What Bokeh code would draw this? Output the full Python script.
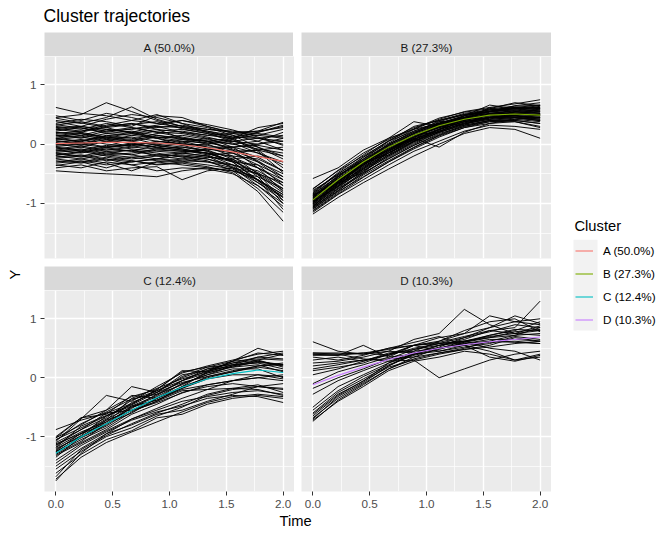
from bokeh.plotting import figure
from bokeh.layouts import column, row
from bokeh.models import Range1d, FixedTicker, Legend, LegendItem, PrintfTickFormatter
from bokeh.core.properties import value
from bokeh.embed import file_html
from bokeh.resources import INLINE

# ---------------- data ----------------
TIME = [0.0, 0.222, 0.444, 0.667, 0.889, 1.111, 1.333, 1.556, 1.778, 2.0]

CLUSTERS = ["A", "B", "C", "D"]
CLUSTER_LABELS = ["A (50.0%)", "B (27.3%)", "C (12.4%)", "D (10.3%)"]
CLUSTER_COLORS = ["#F8766D", "#7CAE00", "#00BFC4", "#C77CFF"]

MEAN_A = [0.01, 0.02, 0.03, 0.03, 0.02, -0.01, -0.06, -0.13, -0.21, -0.29]
MEAN_B = [-0.94, -0.60, -0.30, -0.05, 0.15, 0.31, 0.42, 0.49, 0.51, 0.49]
MEAN_C = [-1.28, -1.00, -0.78, -0.55, -0.34, -0.16, -0.02, 0.07, 0.13, 0.09]
MEAN_D = [-0.12, 0.04, 0.18, 0.31, 0.42, 0.50, 0.56, 0.61, 0.65, 0.69]

TRAJ_A = [
    [0.62, 0.52, 0.48, 0.40, 0.35, 0.28, 0.20, 0.12, 0.10, 0.05],
    [0.45, 0.50, 0.70, 0.55, 0.40, 0.30, 0.22, 0.15, 0.05, -0.10],
    [0.40, 0.35, 0.45, 0.63, 0.42, 0.30, 0.25, 0.20, 0.22, 0.37],
    [0.35, 0.42, 0.38, 0.30, 0.48, 0.45, 0.30, 0.18, 0.10, 0.00],
    [0.30, 0.25, 0.35, 0.28, 0.20, 0.18, 0.10, -0.05, -0.30, -0.60],
    [0.28, 0.30, 0.22, 0.25, 0.30, 0.20, 0.15, 0.10, 0.28, 0.35],
    [0.25, 0.20, 0.30, 0.35, 0.25, 0.10, 0.05, -0.10, -0.40, -0.80],
    [0.22, 0.28, 0.18, 0.15, 0.22, 0.25, 0.18, 0.05, 0.00, 0.10],
    [0.20, 0.15, 0.25, 0.20, 0.12, 0.05, -0.05, -0.20, -0.50, -0.95],
    [0.18, 0.22, 0.28, 0.18, 0.10, 0.15, 0.08, 0.00, 0.05, 0.20],
    [0.15, 0.10, 0.18, 0.22, 0.15, 0.08, 0.00, -0.15, -0.35, -0.70],
    [0.12, 0.18, 0.10, 0.05, 0.12, 0.10, 0.05, 0.10, 0.15, 0.25],
    [0.10, 0.05, 0.15, 0.10, 0.00, -0.05, -0.10, -0.25, -0.55, -1.00],
    [0.08, 0.12, 0.05, 0.15, 0.10, 0.02, -0.05, -0.05, 0.00, 0.05],
    [0.05, 0.00, 0.08, 0.05, -0.02, -0.08, -0.15, -0.30, -0.60, -1.10],
    [0.03, 0.08, 0.00, -0.03, 0.05, 0.00, -0.08, -0.12, -0.10, -0.20],
    [0.00, -0.05, 0.05, 0.02, -0.05, -0.10, -0.18, -0.35, -0.65, -0.90],
    [-0.02, 0.03, -0.05, 0.00, 0.02, -0.02, 0.00, 0.05, 0.10, 0.15],
    [-0.05, -0.10, -0.02, -0.08, -0.12, -0.15, -0.20, -0.40, -0.70, -1.05],
    [-0.08, -0.03, -0.10, -0.05, -0.08, -0.12, -0.10, -0.05, -0.02, -0.10],
    [-0.10, -0.15, -0.08, -0.12, -0.18, -0.20, -0.25, -0.38, -0.60, -0.85],
    [-0.12, -0.08, -0.15, -0.18, -0.10, -0.12, -0.15, -0.20, -0.25, -0.45],
    [-0.15, -0.20, -0.12, -0.10, -0.15, -0.22, -0.28, -0.45, -0.75, -1.15],
    [-0.18, -0.12, -0.20, -0.25, -0.20, -0.18, -0.22, -0.25, -0.20, -0.30],
    [-0.20, -0.25, -0.18, -0.22, -0.28, -0.30, -0.35, -0.42, -0.65, -0.95],
    [-0.22, -0.18, -0.25, -0.30, -0.25, -0.28, -0.30, -0.35, -0.45, -0.70],
    [-0.25, -0.30, -0.22, -0.28, -0.35, -0.32, -0.38, -0.48, -0.80, -1.30],
    [-0.30, -0.25, -0.32, -0.45, -0.30, -0.35, -0.40, -0.45, -0.55, -0.75],
    [-0.35, -0.40, -0.30, -0.35, -0.45, -0.40, -0.42, -0.50, -0.70, -1.00],
    [-0.45, -0.48, -0.50, -0.52, -0.55, -0.45, -0.40, -0.45, -0.60, -0.85],
    [-0.40, -0.35, -0.45, -0.40, -0.38, -0.60, -0.45, -0.40, -0.50, -0.65],
    [0.38, 0.30, 0.42, 0.50, 0.45, 0.35, 0.28, 0.15, -0.05, -0.25],
    [0.32, 0.38, 0.30, 0.35, 0.28, 0.32, 0.25, 0.22, 0.18, 0.12],
    [0.27, 0.22, 0.32, 0.40, 0.50, 0.35, 0.20, 0.10, -0.10, -0.40],
    [0.14, 0.20, 0.12, 0.08, 0.18, 0.22, 0.15, 0.18, 0.22, 0.28],
    [0.06, 0.02, 0.10, 0.12, 0.05, 0.00, -0.02, -0.10, -0.28, -0.55],
    [-0.04, 0.00, -0.06, -0.02, 0.04, 0.08, 0.05, 0.00, -0.08, -0.15],
    [-0.14, -0.10, -0.18, -0.15, -0.08, -0.05, -0.12, -0.22, -0.40, -0.65],
    [-0.24, -0.20, -0.28, -0.22, -0.18, -0.15, -0.20, -0.30, -0.35, -0.55],
    [-0.28, -0.32, -0.25, -0.35, -0.30, -0.25, -0.30, -0.40, -0.60, -0.90],
    [0.48, 0.40, 0.52, 0.45, 0.35, 0.40, 0.30, 0.20, 0.15, 0.10],
    [0.24, 0.30, 0.25, 0.20, 0.30, 0.28, 0.22, 0.12, 0.20, 0.30],
    [0.16, 0.12, 0.22, 0.28, 0.20, 0.12, 0.05, -0.08, -0.22, -0.45],
    [0.02, -0.02, 0.05, -0.05, 0.00, 0.05, 0.02, -0.05, -0.15, -0.30],
    [-0.06, -0.12, -0.04, 0.00, -0.06, -0.10, -0.15, -0.28, -0.48, -0.75],
    [-0.16, -0.22, -0.15, -0.10, -0.20, -0.25, -0.18, -0.15, -0.10, -0.05],
    [-0.32, -0.28, -0.35, -0.30, -0.25, -0.20, -0.25, -0.35, -0.50, -0.78],
    [0.10, 0.15, 0.08, 0.00, -0.05, 0.02, 0.10, 0.05, -0.05, -0.20],
    [-0.10, -0.05, -0.12, -0.18, -0.25, -0.15, -0.08, -0.15, -0.30, -0.50],
    [0.20, 0.18, 0.12, 0.18, 0.25, 0.20, 0.12, 0.02, -0.15, -0.35],
    [0.44, 0.36, 0.28, 0.33, 0.38, 0.26, 0.18, 0.08, -0.12, -0.48],
    [0.09, 0.04, 0.14, 0.20, 0.10, -0.02, -0.12, -0.30, -0.62, -0.88],
    [-0.01, 0.06, 0.12, 0.06, 0.15, 0.10, 0.02, 0.08, 0.20, 0.32],
    [-0.19, -0.14, -0.06, -0.12, -0.02, -0.08, -0.16, -0.28, -0.52, -0.82],
    [-0.36, -0.30, -0.40, -0.28, -0.34, -0.30, -0.22, -0.26, -0.40, -0.60],
    [0.33, 0.27, 0.20, 0.26, 0.32, 0.40, 0.33, 0.24, 0.12, -0.02],
]

TRAJ_B = [
    [-0.58, -0.40, -0.10, 0.10, 0.25, 0.35, 0.45, 0.55, 0.60, 0.62],
    [-0.75, -0.45, -0.20, 0.05, 0.30, 0.40, 0.50, 0.55, 0.65, 0.70],
    [-0.80, -0.50, -0.25, 0.00, 0.20, 0.35, 0.48, 0.58, 0.62, 0.60],
    [-0.85, -0.55, -0.22, 0.02, 0.25, 0.42, 0.55, 0.62, 0.68, 0.75],
    [-0.88, -0.62, -0.35, -0.10, 0.12, 0.28, 0.40, 0.48, 0.52, 0.50],
    [-0.90, -0.58, -0.30, -0.02, 0.18, 0.33, 0.45, 0.52, 0.55, 0.58],
    [-0.92, -0.65, -0.38, -0.12, 0.08, 0.25, 0.38, 0.45, 0.48, 0.45],
    [-0.95, -0.60, -0.28, -0.05, 0.15, 0.30, 0.42, 0.50, 0.52, 0.50],
    [-0.98, -0.70, -0.42, -0.18, 0.05, 0.22, 0.35, 0.42, 0.45, 0.40],
    [-1.00, -0.62, -0.32, -0.08, 0.12, 0.28, 0.40, 0.48, 0.50, 0.48],
    [-1.02, -0.68, -0.40, -0.15, 0.08, 0.25, 0.38, 0.45, 0.48, 0.42],
    [-1.05, -0.72, -0.45, -0.20, 0.02, 0.20, 0.32, 0.40, 0.42, 0.38],
    [-1.08, -0.75, -0.48, -0.25, -0.02, 0.18, 0.30, 0.38, 0.40, 0.35],
    [-1.10, -0.80, -0.55, -0.30, -0.08, 0.12, 0.28, 0.35, 0.38, 0.30],
    [-1.15, -0.85, -0.60, -0.35, -0.12, 0.05, 0.22, 0.32, 0.30, 0.25],
    [-1.18, -0.90, -0.65, -0.42, -0.20, 0.00, 0.18, 0.28, 0.25, 0.10],
    [-0.82, -0.48, -0.18, 0.10, 0.38, 0.30, 0.48, 0.55, 0.58, 0.52],
    [-0.78, -0.52, -0.28, -0.10, 0.15, 0.28, 0.40, 0.62, 0.52, 0.48],
    [-0.86, -0.58, -0.32, -0.15, 0.05, 0.25, 0.45, 0.60, 0.70, 0.65],
    [-0.93, -0.55, -0.25, 0.05, 0.22, 0.38, 0.50, 0.58, 0.60, 0.62],
    [-0.96, -0.66, -0.35, -0.10, 0.10, -0.05, 0.20, 0.35, 0.42, 0.45],
    [-0.99, -0.64, -0.30, 0.00, 0.20, 0.35, 0.48, 0.55, 0.60, 0.65],
    [-1.01, -0.70, -0.38, -0.12, 0.10, 0.26, 0.38, 0.46, 0.48, 0.44],
    [-1.04, -0.74, -0.42, -0.15, 0.06, 0.22, 0.36, 0.44, 0.46, 0.42],
    [-1.06, -0.76, -0.50, -0.22, 0.00, 0.20, 0.34, 0.42, 0.45, 0.40],
    [-1.12, -0.82, -0.52, -0.28, -0.05, 0.15, 0.30, 0.40, 0.40, 0.35],
    [-0.89, -0.56, -0.28, 0.00, 0.22, 0.36, 0.46, 0.52, 0.56, 0.55],
    [-0.84, -0.54, -0.26, -0.02, 0.18, 0.34, 0.44, 0.54, 0.58, 0.56],
    [-0.91, -0.63, -0.36, -0.08, 0.14, 0.30, 0.44, 0.50, 0.54, 0.52],
    [-0.97, -0.68, -0.40, -0.14, 0.08, 0.24, 0.38, 0.46, 0.50, 0.48],
    [-1.03, -0.71, -0.44, -0.18, 0.04, 0.22, 0.36, 0.45, 0.48, 0.46],
    [-1.07, -0.78, -0.50, -0.24, -0.02, 0.16, 0.32, 0.40, 0.44, 0.40],
    [-0.87, -0.60, -0.33, -0.06, 0.16, 0.32, 0.44, 0.56, 0.62, 0.60],
    [-0.94, -0.62, -0.34, -0.06, 0.14, 0.30, 0.42, 0.50, 0.54, 0.54],
    [-1.00, -0.66, -0.36, -0.10, 0.12, 0.30, 0.42, 0.50, 0.52, 0.50],
    [-0.76, -0.44, -0.15, 0.08, 0.28, 0.40, 0.50, 0.56, 0.60, 0.58],
    [-1.09, -0.79, -0.46, -0.20, 0.04, 0.20, 0.34, 0.44, 0.46, 0.44],
    [-0.83, -0.50, -0.22, 0.06, 0.26, 0.44, 0.54, 0.60, 0.64, 0.66],
    [-0.95, -0.64, -0.34, -0.05, 0.18, 0.40, 0.52, 0.58, 0.62, 0.66],
    [-1.13, -0.84, -0.56, -0.30, -0.06, 0.14, 0.28, 0.38, 0.38, 0.28],
    [-0.90, -0.52, -0.30, -0.04, 0.08, 0.24, 0.48, 0.66, 0.60, 0.56],
    [-1.06, -0.66, -0.48, -0.12, 0.10, 0.34, 0.32, 0.52, 0.57, 0.64],
    [-0.97, -0.72, -0.30, -0.18, 0.16, 0.20, 0.44, 0.42, 0.55, 0.52],
    [-0.86, -0.66, -0.42, -0.02, 0.06, 0.38, 0.40, 0.52, 0.48, 0.60],
]

TRAJ_C = [
    [-0.88, -0.72, -0.60, -0.55, -0.40, -0.15, 0.00, 0.10, 0.20, 0.25],
    [-1.00, -0.68, -0.62, -0.30, -0.35, -0.10, 0.05, 0.20, 0.30, 0.40],
    [-1.02, -0.80, -0.55, -0.15, -0.25, 0.05, 0.12, 0.25, 0.35, 0.42],
    [-1.05, -0.85, -0.65, -0.45, -0.20, 0.10, 0.18, 0.22, 0.28, 0.20],
    [-1.08, -0.70, -0.30, -0.40, -0.15, 0.08, 0.20, 0.30, 0.40, 0.45],
    [-1.10, -0.88, -0.68, -0.38, -0.22, 0.00, 0.15, 0.25, 0.30, 0.18],
    [-1.12, -0.95, -0.72, -0.35, -0.18, -0.02, 0.10, 0.22, 0.25, 0.15],
    [-1.15, -0.92, -0.75, -0.42, -0.25, 0.02, 0.18, 0.28, 0.32, 0.30],
    [-1.18, -0.95, -0.78, -0.48, -0.30, -0.05, 0.08, 0.18, 0.22, 0.10],
    [-1.20, -1.00, -0.80, -0.50, -0.32, -0.10, 0.05, 0.15, 0.15, 0.00],
    [-1.22, -0.98, -0.65, -0.48, -0.38, -0.20, -0.12, -0.05, 0.00, -0.05],
    [-1.25, -1.02, -0.82, -0.55, -0.35, -0.15, 0.10, 0.22, 0.35, 0.32],
    [-1.28, -1.05, -0.85, -0.58, -0.40, -0.22, -0.20, -0.18, -0.20, -0.30],
    [-1.30, -1.08, -0.78, -0.60, -0.35, -0.18, 0.02, 0.12, 0.20, 0.22],
    [-1.32, -1.10, -0.88, -0.62, -0.45, -0.25, -0.15, -0.10, -0.15, -0.18],
    [-1.35, -1.00, -0.75, -0.52, -0.28, -0.12, 0.08, 0.20, 0.26, 0.22],
    [-1.40, -1.12, -0.90, -0.70, -0.55, -0.40, -0.32, -0.25, -0.22, -0.28],
    [-1.45, -1.15, -0.92, -0.72, -0.58, -0.48, -0.35, -0.30, -0.32, -0.42],
    [-1.50, -1.20, -0.95, -0.80, -0.62, -0.55, -0.40, -0.28, -0.15, -0.20],
    [-1.55, -1.25, -1.00, -0.85, -0.65, -0.50, -0.30, -0.20, -0.15, -0.10],
    [-1.62, -1.30, -1.05, -0.90, -0.68, -0.62, -0.45, -0.35, -0.30, -0.35],
    [-1.68, -1.22, -0.98, -0.78, -0.60, -0.45, -0.28, -0.18, -0.12, -0.25],
    [-1.72, -1.35, -1.10, -0.92, -0.75, -0.58, -0.42, -0.32, -0.28, -0.32],
    [-1.75, -1.28, -0.95, -0.70, -0.52, -0.35, -0.20, -0.05, 0.05, 0.02],
    [-1.02, -0.68, -0.55, -0.32, -0.20, 0.12, 0.10, 0.28, 0.42, 0.38],
    [-1.14, -0.88, -0.60, -0.44, -0.22, -0.05, 0.15, 0.18, 0.28, 0.22],
    [-1.24, -0.94, -0.70, -0.50, -0.38, -0.18, -0.02, 0.05, 0.05, -0.02],
    [-1.06, -0.78, -0.58, -0.36, -0.28, -0.05, 0.12, 0.28, 0.50, 0.38],
    [-1.18, -0.82, -0.64, -0.46, -0.25, -0.08, 0.02, 0.10, 0.18, 0.12],
    [-1.26, -1.00, -0.72, -0.56, -0.42, -0.26, -0.12, -0.05, 0.00, 0.05],
]

TRAJ_D = [
    [0.61, 0.45, 0.40, 0.50, 0.55, 0.60, 0.70, 0.80, 0.85, 1.30],
    [0.42, 0.42, 0.40, 0.45, 0.65, 0.75, 1.16, 0.90, 0.75, 0.80],
    [0.40, 0.40, 0.42, 0.38, 0.55, 0.62, 0.75, 1.05, 0.95, 0.90],
    [0.38, 0.38, 0.55, 0.35, 0.40, 0.45, 0.52, 0.58, 0.70, 0.65],
    [0.42, 0.40, 0.32, 0.28, 0.30, 0.00, 0.15, 0.30, 0.40, 0.45],
    [0.35, 0.30, 0.38, 0.50, 0.60, 0.70, 0.55, 0.35, 0.28, 0.38],
    [0.30, 0.35, 0.28, 0.40, 0.48, 0.55, 0.60, 0.72, 0.80, 0.95],
    [0.25, 0.28, 0.35, 0.45, 0.42, 0.50, 0.62, 0.50, 0.45, 0.30],
    [0.20, 0.25, 0.30, 0.38, 0.50, 0.58, 0.68, 0.78, 0.90, 0.85],
    [0.12, 0.18, 0.25, 0.40, 0.55, 0.45, 0.55, 0.45, 0.30, 0.40],
    [0.05, 0.15, 0.28, 0.42, 0.45, 0.62, 0.80, 0.95, 1.00, 0.78],
    [-0.10, 0.10, 0.22, 0.35, 0.55, 0.68, 0.75, 0.85, 1.05, 0.92],
    [-0.18, 0.00, 0.15, 0.32, 0.48, 0.58, 0.62, 0.70, 0.75, 0.72],
    [-0.28, -0.05, 0.12, 0.28, 0.40, 0.55, 0.65, 0.80, 0.75, 0.88],
    [-0.50, -0.15, 0.05, 0.25, 0.40, 0.50, 0.58, 0.62, 0.60, 0.58],
    [-0.55, -0.22, 0.02, 0.22, 0.38, 0.48, 0.60, 0.68, 0.72, 0.75],
    [-0.60, -0.25, -0.02, 0.20, 0.42, 0.55, 0.62, 0.72, 0.82, 0.80],
    [-0.65, -0.30, -0.05, 0.18, 0.30, 0.40, 0.48, 0.55, 0.68, 0.62],
    [-0.68, -0.35, -0.10, 0.15, 0.35, 0.50, 0.55, 0.60, 0.62, 0.58],
    [-0.70, -0.32, -0.08, 0.20, 0.40, 0.52, 0.68, 0.85, 0.95, 1.00],
    [-0.72, -0.40, -0.15, 0.12, 0.28, 0.35, 0.45, 0.40, 0.30, 0.35],
    [-0.74, -0.38, -0.12, 0.15, 0.32, 0.42, 0.50, 0.62, 0.72, 0.85],
    [-0.62, -0.28, -0.06, 0.25, 0.45, 0.50, 0.58, 0.65, 0.65, 0.62],
    [0.40, 0.38, 0.42, 0.48, 0.55, 0.58, 0.62, 0.68, 0.78, 0.82],
    [0.15, 0.22, 0.30, 0.32, 0.35, 0.42, 0.48, 0.52, 0.58, 0.62],
]

X_TICKS = [0.0, 0.5, 1.0, 1.5, 2.0]
X_MINOR = [0.25, 0.75, 1.25, 1.75]
Y_TICKS = [-1, 0, 1]
Y_MINOR = [-1.5, -0.5, 0.5, 1.5]

TITLE = "Cluster trajectories"
X_LABEL = "Time"
Y_LABEL = "Y"
LEGEND_TITLE = "Cluster"

# ---------------- styling ----------------
FONT = "Liberation Sans"
XMIN, XMAX = -0.1, 2.1
YMIN, YMAX = -1.93, 1.48
FRAME_W = 250
LEFT_PAD = 20   # border left of left-column frames (after the 23px y-label strip)
GAP = 7         # gap between the two columns

TRAJS = {"A": TRAJ_A, "B": TRAJ_B, "C": TRAJ_C, "D": TRAJ_D}
MEANS = {"A": MEAN_A, "B": MEAN_B, "C": MEAN_C, "D": MEAN_D}


def blank(width, height, xr, yr):
    f = figure(width=width, height=height, x_range=Range1d(*xr), y_range=Range1d(*yr),
               x_axis_location=None, y_axis_location=None, toolbar_location=None,
               output_backend="svg", title=None, min_border=0,
               outline_line_color=None, background_fill_color="white")
    f.grid.visible = False
    return f


def make_strip(label, left_col, ytext):
    s = figure(frame_width=FRAME_W, frame_height=24,
               x_range=Range1d(XMIN, XMAX), y_range=Range1d(0, 24),
               x_axis_location=None, y_axis_location=None, toolbar_location=None,
               output_backend="svg", title=None,
               min_border_left=LEFT_PAD if left_col else GAP, min_border_right=0,
               min_border_top=0, min_border_bottom=0,
               background_fill_color="#D9D9D9", outline_line_color=None)
    s.grid.visible = False
    s.text(x=[(XMIN + XMAX) / 2], y=[ytext], text=[label], text_align="center",
           text_baseline="middle", text_font=value(FONT),
           text_font_size="11.7px", text_color="#1A1A1A")
    return s


def make_panel(idx, left_col, bottom_row):
    key = CLUSTERS[idx]
    p = figure(frame_width=FRAME_W, frame_height=201 if bottom_row else 202,
               x_range=Range1d(XMIN, XMAX), y_range=Range1d(YMIN, YMAX),
               x_axis_location="below" if bottom_row else None,
               y_axis_location="left" if left_col else None,
               toolbar_location=None, output_backend="svg", title=None,
               min_border_left=LEFT_PAD if left_col else GAP, min_border_right=0,
               min_border_top=0, min_border_bottom=22 if bottom_row else 8,
               background_fill_color="#EBEBEB", outline_line_color=None)
    xt = FixedTicker(ticks=X_TICKS, minor_ticks=X_MINOR)
    yt = FixedTicker(ticks=Y_TICKS, minor_ticks=Y_MINOR)
    for g in p.xgrid:
        g.ticker = xt
    for g in p.ygrid:
        g.ticker = yt
    for g in list(p.xgrid) + list(p.ygrid):
        g.grid_line_color = "white"
        g.grid_line_width = 1.4
        g.minor_grid_line_color = "white"
        g.minor_grid_line_width = 0.7
    axes = []
    if bottom_row:
        p.xaxis.ticker = xt
        p.xaxis.formatter = PrintfTickFormatter(format="%.1f")
        axes += list(p.xaxis)
    if left_col:
        p.yaxis.ticker = yt
        p.yaxis.formatter = PrintfTickFormatter(format="%d")
        axes += list(p.yaxis)
    for ax in axes:
        ax.axis_line_color = None
        ax.major_tick_line_color = "#333333"
        ax.major_tick_line_width = 1
        ax.major_tick_out = 4
        ax.major_tick_in = 0
        ax.minor_tick_line_color = None
        ax.major_label_standoff = 4
        ax.major_label_text_font = FONT
        ax.major_label_text_font_size = "11.7px"
        ax.major_label_text_color = "#4D4D4D"

    trajs = TRAJS[key]
    p.multi_line(xs=[TIME] * len(trajs), ys=trajs, line_color="black", line_width=0.95)
    p.line(TIME, MEANS[key], line_color=CLUSTER_COLORS[idx], line_width=1.1)
    return p


# page content starts at (0, 0)
stripA, panelA = make_strip(CLUSTER_LABELS[0], True, 9.3), make_panel(0, True, False)
stripB, panelB = make_strip(CLUSTER_LABELS[1], False, 9.3), make_panel(1, False, False)
stripC, panelC = make_strip(CLUSTER_LABELS[2], True, 10.0), make_panel(2, True, True)
stripD, panelD = make_strip(CLUSTER_LABELS[3], False, 10.0), make_panel(3, False, True)

BODY_H = 481
TOTAL_W = 664
TITLE_H = 32
YLAB_W = 23

# title (cap centre at page y 15.4)
title_fig = blank(TOTAL_W, TITLE_H, (0, TOTAL_W), (0, TITLE_H))
title_fig.text(x=[43], y=[TITLE_H - 15.4], text=[TITLE], text_align="left", text_baseline="middle",
               text_font=value(FONT), text_font_size="17.6px", text_color="black")

# y label (centre at page x 14, y 274)
ylab_fig = blank(YLAB_W, BODY_H, (0, YLAB_W), (0, BODY_H))
ylab_fig.text(x=[14], y=[BODY_H - (274 - TITLE_H)], text=[Y_LABEL], angle=1.5708,
              text_align="center", text_baseline="middle", text_font=value(FONT),
              text_font_size="14.7px", text_color="black")

# x label (cap centre at page y 520)
TIME_H = 24
time_fig = blank(TOTAL_W, TIME_H, (0, TOTAL_W), (0, TIME_H))
time_fig.text(x=[295], y=[TIME_H - (520 - 513)], text=[X_LABEL], text_align="center",
              text_baseline="middle", text_font=value(FONT), text_font_size="14.7px",
              text_color="black")

# legend (figure starts at page x 550, page y 32)
LW = 114
legend_fig = blank(LW, BODY_H, (0, LW), (0, BODY_H))
legend_fig.extra_y_ranges = {"hidden": Range1d(50, 60)}
legend_fig.quad(left=[22], right=[46], bottom=[BODY_H - 298], top=[BODY_H - 207.3],
                fill_color="#F2F2F2", line_color=None)
legend_fig.text(x=[23], y=[BODY_H - (225.3 - TITLE_H)], text=[LEGEND_TITLE], text_align="left",
                text_baseline="middle", text_font=value(FONT), text_font_size="14.7px",
                text_color="black")
items = []
for i, lab in enumerate(CLUSTER_LABELS):
    r = legend_fig.line(TIME, MEANS[CLUSTERS[i]], y_range_name="hidden",
                        line_color=CLUSTER_COLORS[i], line_width=1.1)
    items.append(LegendItem(label=lab, renderers=[r]))
legend = Legend(items=items, location=(24, BODY_H - 299.3), padding=0, margin=0, spacing=0,
                glyph_width=18, glyph_height=23, label_height=23, label_standoff=10,
                label_text_font=FONT, label_text_font_size="11.7px", label_text_color="black",
                background_fill_alpha=0, border_line_color=None)
legend_fig.add_layout(legend)

left_col = column(stripA, panelA, stripC, panelC)
right_col = column(stripB, panelB, stripD, panelD)
body = row(ylab_fig, left_col, right_col, legend_fig)
layout = column(title_fig, body, time_fig)

open("out.html", "w").write(file_html(layout, INLINE))
